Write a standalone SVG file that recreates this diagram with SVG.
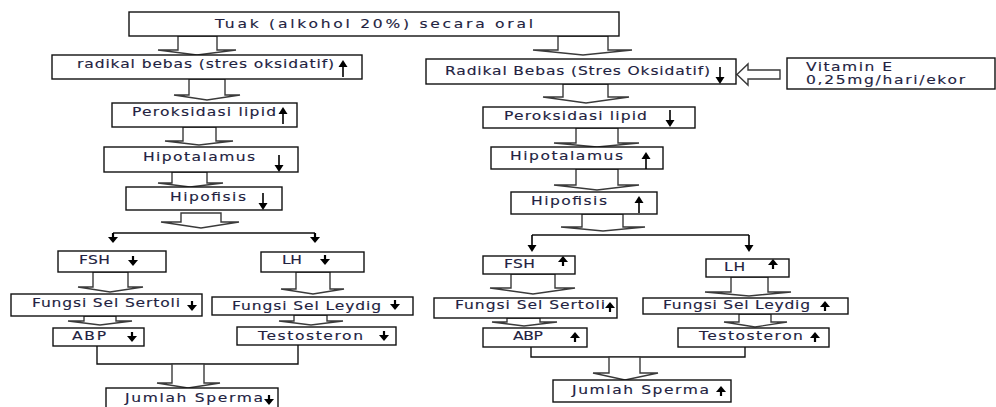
<svg xmlns="http://www.w3.org/2000/svg" xmlns:xlink="http://www.w3.org/1999/xlink" width="996" height="407" viewBox="0 0 996 407">
<style>
.box{fill:#fff;stroke:#111;stroke-width:1.4}
.t{font-family:"DejaVu Sans",Verdana,sans-serif;font-size:11.5px;fill:#22223f;stroke:#22223f;stroke-width:0.12}
.blk{fill:#fff;stroke:#3a3a3a;stroke-width:1.4;stroke-linejoin:miter}
.ln{fill:none;stroke:#111;stroke-width:1.4}
</style>
<defs>
<g id="ub"><path d="M0,0V-12" stroke="#000" stroke-width="1.6" fill="none"/><path d="M-4.5,-10L0,-17L4.5,-10Z" fill="#000"/></g>
<g id="db"><path d="M0,0V12" stroke="#000" stroke-width="1.6" fill="none"/><path d="M-4.5,10L0,17L4.5,10Z" fill="#000"/></g>
<g id="us"><path d="M0,0V-5" stroke="#000" stroke-width="2.2" fill="none"/><path d="M-5,-4L0,-10L5,-4Z" fill="#000"/></g>
<g id="ds"><path d="M0,0V5" stroke="#000" stroke-width="2.2" fill="none"/><path d="M-5,4L0,10L5,4Z" fill="#000"/></g>
</defs>
<rect width="996" height="407" fill="#fff"/>

<g id="connectors">
<polygon class="blk" points="178,36 217,36 217,50 236,50 197,55 158,50 178,50"/>
<polygon class="blk" points="558,36 608,36 608,50 632,50 583,55 533,50 558,50"/>
<polygon class="blk" points="189,79 225,79 225,95 240,95 207,100 174,95 189,95"/>
<polygon class="blk" points="183,127 216,127 216,141 233,141 199,145 165,141 183,141"/>
<polygon class="blk" points="172,172 207,172 207,183 223,183 190,187 158,183 172,183"/>
<polygon class="blk" points="181,213 221,213 221,222 239,222 201,228 161,222 181,222"/>
<polygon class="blk" points="563,84 608,84 608,97 629,97 586,103 543,97 563,97"/>
<polygon class="blk" points="576,128 618,128 618,143 639,143 597,147 554,143 576,143"/>
<polygon class="blk" points="576,169 618,169 618,185 639,185 597,190 554,185 576,185"/>
<polygon class="blk" points="582,214 623,214 623,227 645,227 603,231 561,227 582,227"/>
<polygon class="blk" points="93,272 128,272 128,287 143,287 110,292 78,287 93,287"/>
<polygon class="blk" points="296,272 330,272 330,289 344,289 313,294 281,289 296,289"/>
<polygon class="blk" points="84,316 116,316 116,321 132,321 100,325 68,321 84,321"/>
<polygon class="blk" points="294,315 327,315 327,321 343,321 311,325 279,321 294,321"/>
<polygon class="blk" points="511,274 555,274 555,288 575,288 533,294 490,288 511,288"/>
<polygon class="blk" points="731,277 768,277 768,292 791,292 749,296 705,292 731,292"/>
<polygon class="blk" points="507,318 540,318 540,322 557,322 524,326 492,322 507,322"/>
<polygon class="blk" points="739,314 771,314 771,322 787,322 755,327 724,322 739,322"/>
<polygon class="blk" points="780,70 748,70 748,64 737,74.5 748,85 748,79 780,79"/>
<path class="ln" d="M113,233H315M532,235H749"/>
<use href="#ds" x="113" y="233"/>
<use href="#ds" x="315" y="233"/>
<use href="#db" x="532" y="235"/>
<use href="#db" x="749" y="235"/>
<path class="ln" d="M97,346V364H298V345"/>
<path class="ln" d="M531,347V357H745V347"/>
<polygon class="blk" points="172,364 204,364 204,383 220,383 188,388 157,383 172,383"/>
<polygon class="blk" points="609,357 640,357 640,373 658,373 625,380 593,373 609,373"/>
</g>

<g id="n-tuak"><rect class="box" x="129" y="12" width="490" height="24"/><text class="t" transform="matrix(1.35 0 0 1 215 28)" textLength="235.6" lengthAdjust="spacing">Tuak (alkohol 20%) secara oral</text></g>

<g id="n-l-radikal"><rect class="box" x="52" y="55" width="310" height="24"/><text class="t" transform="matrix(1.35 0 0 1 77 68)" textLength="190.4" lengthAdjust="spacing">radikal bebas (stres oksidatif)</text><use href="#ub" x="343" y="77"/></g>
<g id="n-l-peroksidasi"><rect class="box" x="112" y="103" width="185" height="24"/><text class="t" transform="matrix(1.35 0 0 1 132 116)" textLength="106.7" lengthAdjust="spacing">Peroksidasi lipid</text><use href="#ub" x="283" y="124"/></g>
<g id="n-l-hipotalamus"><rect class="box" x="104" y="147" width="194" height="25"/><text class="t" transform="matrix(1.35 0 0 1 143 161)" textLength="83" lengthAdjust="spacing">Hipotalamus</text><use href="#db" x="279" y="155"/></g>
<g id="n-l-hipofisis"><rect class="box" x="126" y="187" width="156" height="23"/><text class="t" transform="matrix(1.35 0 0 1 170 201)" textLength="56.3" lengthAdjust="spacing">Hipofisis</text><use href="#db" x="263" y="193"/></g>
<g id="n-l-fsh"><rect class="box" x="58" y="251" width="108" height="21"/><text class="t" transform="matrix(1.35 0 0 1 79 264)" textLength="23" lengthAdjust="spacing">FSH</text><use href="#ds" x="133" y="256"/></g>
<g id="n-l-lh"><rect class="box" x="261" y="252" width="103" height="20"/><text class="t" transform="matrix(1.35 0 0 1 282 264)" textLength="14.8" lengthAdjust="spacing">LH</text><use href="#ds" x="325" y="255"/></g>
<g id="n-l-sertoli"><rect class="box" x="11" y="294" width="191" height="22"/><text class="t" transform="matrix(1.35 0 0 1 32 307)" textLength="109.6" lengthAdjust="spacing">Fungsi Sel Sertoli</text><use href="#ds" x="192" y="301"/></g>
<g id="n-l-leydig"><rect class="box" x="212" y="297" width="201" height="18"/><text class="t" transform="matrix(1.35 0 0 1 232 310)" textLength="110.4" lengthAdjust="spacing">Fungsi Sel Leydig</text><use href="#ds" x="395" y="300"/></g>
<g id="n-l-abp"><rect class="box" x="53" y="328" width="91" height="18"/><text class="t" transform="matrix(1.35 0 0 1 72 340)" textLength="25.2" lengthAdjust="spacing">ABP</text><use href="#ds" x="132" y="332"/></g>
<g id="n-l-testosteron"><rect class="box" x="237" y="327" width="159" height="18"/><text class="t" transform="matrix(1.35 0 0 1 258 340)" textLength="77.8" lengthAdjust="spacing">Testosteron</text><use href="#ds" x="384" y="331"/></g>
<g id="n-l-jumlah"><rect class="box" x="106" y="388" width="172" height="26"/><text class="t" transform="matrix(1.35 0 0 1 125 402)" textLength="102.2" lengthAdjust="spacing">Jumlah Sperma</text><use href="#ds" x="269" y="395"/></g>

<g id="n-r-radikal"><rect class="box" x="426" y="59" width="310" height="25"/><text class="t" transform="matrix(1.35 0 0 1 445 75)" textLength="196.3" lengthAdjust="spacing">Radikal Bebas (Stres Oksidatif)</text><use href="#db" x="720" y="67"/></g>
<g id="n-vitamin"><rect class="box" x="787" y="58" width="208" height="31"/><text class="t" transform="matrix(1.35 0 0 1 806 71)" textLength="63.7" lengthAdjust="spacing">Vitamin E</text><text class="t" transform="matrix(1.35 0 0 1 806 84)" textLength="117.8" lengthAdjust="spacing">0,25mg/hari/ekor</text></g>
<g id="n-r-peroksidasi"><rect class="box" x="483" y="107" width="212" height="21"/><text class="t" transform="matrix(1.35 0 0 1 504 120)" textLength="105.9" lengthAdjust="spacing">Peroksidasi lipid</text><use href="#db" x="670" y="110"/></g>
<g id="n-r-hipotalamus"><rect class="box" x="491" y="147" width="172" height="22"/><text class="t" transform="matrix(1.35 0 0 1 510 160)" textLength="83.7" lengthAdjust="spacing">Hipotalamus</text><use href="#ub" x="646" y="169"/></g>
<g id="n-r-hipofisis"><rect class="box" x="511" y="192" width="146" height="22"/><text class="t" transform="matrix(1.35 0 0 1 531 205)" textLength="56.3" lengthAdjust="spacing">Hipofisis</text><use href="#ub" x="639" y="213"/></g>
<g id="n-r-fsh"><rect class="box" x="483" y="256" width="92" height="18"/><text class="t" transform="matrix(1.35 0 0 1 504 268)" textLength="23" lengthAdjust="spacing">FSH</text><use href="#us" x="563" y="266"/></g>
<g id="n-r-lh"><rect class="box" x="706" y="259" width="83" height="18"/><text class="t" transform="matrix(1.35 0 0 1 724 271)" textLength="15.6" lengthAdjust="spacing">LH</text><use href="#us" x="773" y="269"/></g>
<g id="n-r-sertoli"><rect class="box" x="434" y="298" width="183" height="20"/><text class="t" transform="matrix(1.35 0 0 1 455 309)" textLength="111.1" lengthAdjust="spacing">Fungsi Sel Sertoli</text><use href="#us" x="610" y="312"/></g>
<g id="n-r-leydig"><rect class="box" x="643" y="298" width="205" height="16"/><text class="t" transform="matrix(1.35 0 0 1 663 309)" textLength="108.9" lengthAdjust="spacing">Fungsi Sel Leydig</text><use href="#us" x="825" y="311"/></g>
<g id="n-r-abp"><rect class="box" x="483" y="328" width="104" height="19"/><text class="t" transform="matrix(1.35 0 0 1 513 340)" textLength="22.2" lengthAdjust="spacing">ABP</text><use href="#us" x="575" y="342"/></g>
<g id="n-r-testosteron"><rect class="box" x="678" y="328" width="151" height="19"/><text class="t" transform="matrix(1.35 0 0 1 699 340)" textLength="77" lengthAdjust="spacing">Testosteron</text><use href="#us" x="815" y="342"/></g>
<g id="n-r-jumlah"><rect class="box" x="553" y="380" width="178" height="22"/><text class="t" transform="matrix(1.35 0 0 1 572 394)" textLength="101.5" lengthAdjust="spacing">Jumlah Sperma</text><use href="#us" x="721" y="396"/></g>
</svg>
